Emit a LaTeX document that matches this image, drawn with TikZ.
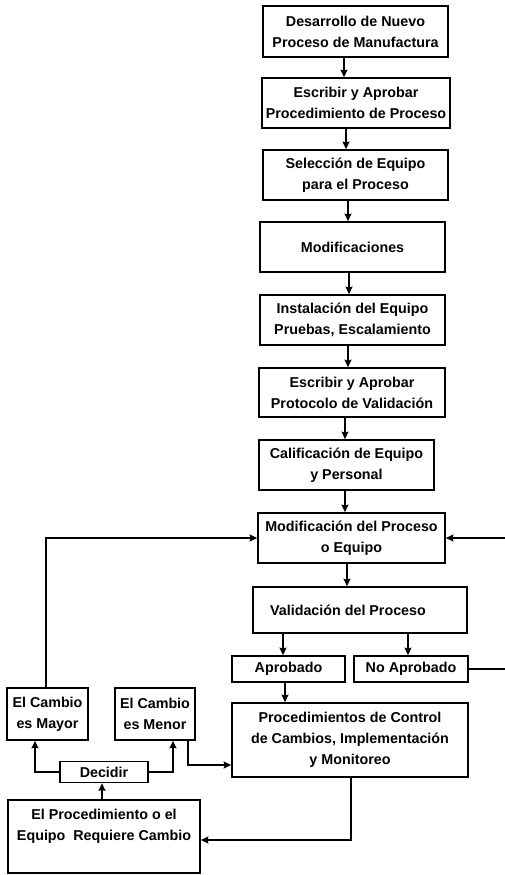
\documentclass[tikz,border=0pt]{standalone}
\usepackage{fontspec}
\setmainfont{Liberation Sans}
\usetikzlibrary{arrows.meta}
\begin{document}
\begin{tikzpicture}[x=1pt,y=-1pt,
  box/.style={draw, line width=1.7pt, rectangle, inner sep=0pt, align=center,
              font=\bfseries\fontsize{14.3}{21}\selectfont},
  link/.style={line width=1.5pt, -{Stealth[length=7.5pt,width=7pt,inset=1pt]}}]
\useasboundingbox (0,0) rectangle (505,875);

% main column of process steps
\node[box, minimum width=185pt, minimum height=51pt] (b1) at (355.5,31.5) {Desarrollo de Nuevo\\Proceso de Manufactura};
\node[box, minimum width=188pt, minimum height=50pt] (b2) at (356,103) {Escribir y Aprobar\\Procedimiento de Proceso};
\node[box, minimum width=185pt, minimum height=50pt] (b3) at (355.5,175) {Selección de Equipo\\para el Proceso};
\node[box, minimum width=185pt, minimum height=50pt] (b4) at (352.5,247) {Modificaciones};
\node[box, minimum width=185pt, minimum height=50pt] (b5) at (352.5,320) {Instalación del Equipo\\Pruebas, Escalamiento};
\node[box, minimum width=186pt, minimum height=49pt] (b6) at (352,392.5) {Escribir y Aprobar\\Protocolo de Validación};
\node[box, minimum width=175pt, minimum height=50pt] (b7) at (346.5,465) {Calificación de Equipo\\y Personal};
\node[box, minimum width=187pt, minimum height=50pt] (b8) at (351.5,538) {Modificación del Proceso\\o Equipo};
\node[box, minimum width=214pt, minimum height=46pt] (b9) at (360,610) {Validación del Proceso\hspace*{24pt}};

% outcome of the validation
\node[box, minimum width=113pt, minimum height=26pt] (ap) at (288.5,669) {Aprobado};
\node[box, minimum width=114pt, minimum height=26pt] (na) at (411,669) {No Aprobado};
\node[box, minimum width=236pt, minimum height=74pt] (pc) at (350,740) {Procedimientos de Control\\de Cambios, Implementación\\y Monitoreo};

% change-control loop
\node[box, minimum width=81pt, minimum height=52pt] (my) at (47.5,714) {El Cambio\\es Mayor};
\node[box, minimum width=80pt, minimum height=52pt] (mn) at (155,714) {El Cambio\\es Menor};
\node[box, minimum width=88pt, minimum height=21pt] (dc) at (104,772) {Decidir};
\node[box, minimum width=192pt, minimum height=73pt] (rq) at (104,836.5) {El Procedimiento o el\\Equipo\ \ Requiere Cambio\\[3pt]};

% vertical links down the main column
\coordinate (c12) at (344,0);
\coordinate (c23) at (346,0);
\coordinate (c34) at (348,0);
\coordinate (c45) at (349,0);
\coordinate (c56) at (348,0);
\coordinate (c67) at (345,0);
\coordinate (c78) at (345,0);
\coordinate (c89) at (347,0);
\draw[link] (b1.south -| c12) -- (b2.north -| c12);
\draw[link] (b2.south -| c23) -- (b3.north -| c23);
\draw[link] (b3.south -| c34) -- (b4.north -| c34);
\draw[link] (b4.south -| c45) -- (b5.north -| c45);
\draw[link] (b5.south -| c56) -- (b6.north -| c56);
\draw[link] (b6.south -| c67) -- (b7.north -| c67);
\draw[link] (b7.south -| c78) -- (b8.north -| c78);
\draw[link] (b8.south -| c89) -- (b9.north -| c89);

% validation branches
\coordinate (cap) at (283,0);
\coordinate (cna) at (408,0);
\coordinate (cpc) at (285,0);
\draw[link] (b9.south -| cap) -- (ap.north -| cap);
\draw[link] (b9.south -| cna) -- (na.north -| cna);
\draw[link] (ap.south -| cpc) -- (pc.north -| cpc);

% rejected: back to the modification step from the right
\coordinate (rgt) at (507,0);
\draw[link] (na.east) -- (na.east -| rgt) -- (b8.east -| rgt) -- (b8.east);

% monitoring leads to a change request
\coordinate (pcx) at (351,840);
\draw[link] (pc.south -| pcx) -- (pcx) -- (rq.east |- pcx);
\coordinate (rdx) at (102,0);
\draw[link] (rq.north -| rdx) -- (dc.south -| rdx);

% decision between major and minor change
\coordinate (dmy) at (35,0);
\coordinate (dmn) at (173,0);
\draw[link] (dc.west) -| (my.south -| dmy);
\draw[link] (dc.east) -| (mn.south -| dmn);

% minor change goes to change control, major change back to modification
\coordinate (mnx) at (188,765);
\draw[link] (mn.south -| mnx) -- (mnx) -- (pc.west |- mnx);
\coordinate (myx) at (46,538);
\draw[link] (my.north -| myx) -- (myx) -- (b8.west);
\end{tikzpicture}
\end{document}
